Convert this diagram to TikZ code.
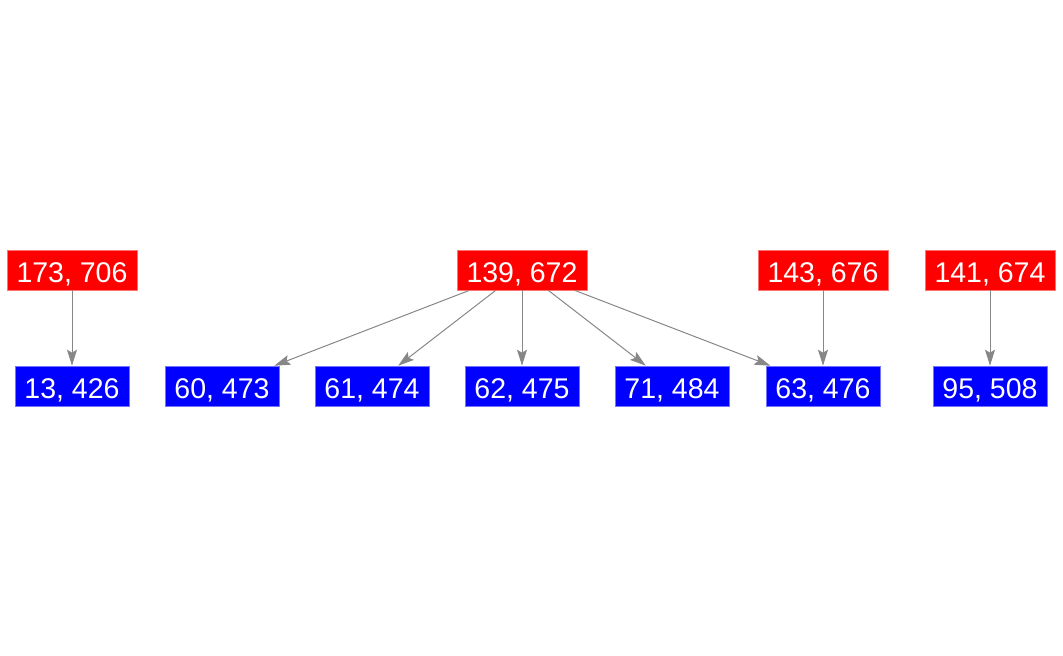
\documentclass[tikz,border=0pt]{standalone}
\usepackage{fontspec}
\setmainfont{Liberation Sans}
\usetikzlibrary{arrows.meta}

\begin{document}
\begin{tikzpicture}[
  x=1pt, y=1pt,
  font=\fontsize{28.5}{31}\selectfont,
  sorgente/.style={draw=red!55!white, fill=red, text=white, line width=0.6pt,
                   inner xsep=9.5pt, text height=24pt, text depth=0pt, minimum height=40pt},
  bersaglio/.style={draw=blue!55!white, fill=blue, text=white, line width=0.6pt,
                    inner xsep=9.5pt, text height=24pt, text depth=0pt, minimum height=40pt},
  arco/.style={draw=black!47, line width=1pt, -{Stealth[length=16pt,width=10pt,inset=3pt]}}
]

\useasboundingbox (0,0) rectangle (1063,-656);

% livello superiore
\node[sorgente] (R173) at (72,-270)  {173, 706};
\node[sorgente] (R139) at (522,-270) {139, 672};
\node[sorgente] (R143) at (823,-270) {143, 676};
\node[sorgente] (R141) at (990,-270) {141, 674};

% livello inferiore
\node[bersaglio] (B13) at (72,-386)  {13, 426};
\node[bersaglio] (B60) at (222,-386) {60, 473};
\node[bersaglio] (B61) at (372,-386) {61, 474};
\node[bersaglio] (B62) at (522,-386) {62, 475};
\node[bersaglio] (B71) at (672,-386) {71, 484};
\node[bersaglio] (B63) at (823,-386) {63, 476};
\node[bersaglio] (B95) at (990,-386) {95, 508};

\draw[arco] (R173) -- (B13);
\draw[arco] (R139) -- (B60);
\draw[arco] (R139) -- (B61);
\draw[arco] (R139) -- (B62);
\draw[arco] (R139) -- (B71);
\draw[arco] (R139) -- (B63);
\draw[arco] (R143) -- (B63);
\draw[arco] (R141) -- (B95);

\end{tikzpicture}
\end{document}
